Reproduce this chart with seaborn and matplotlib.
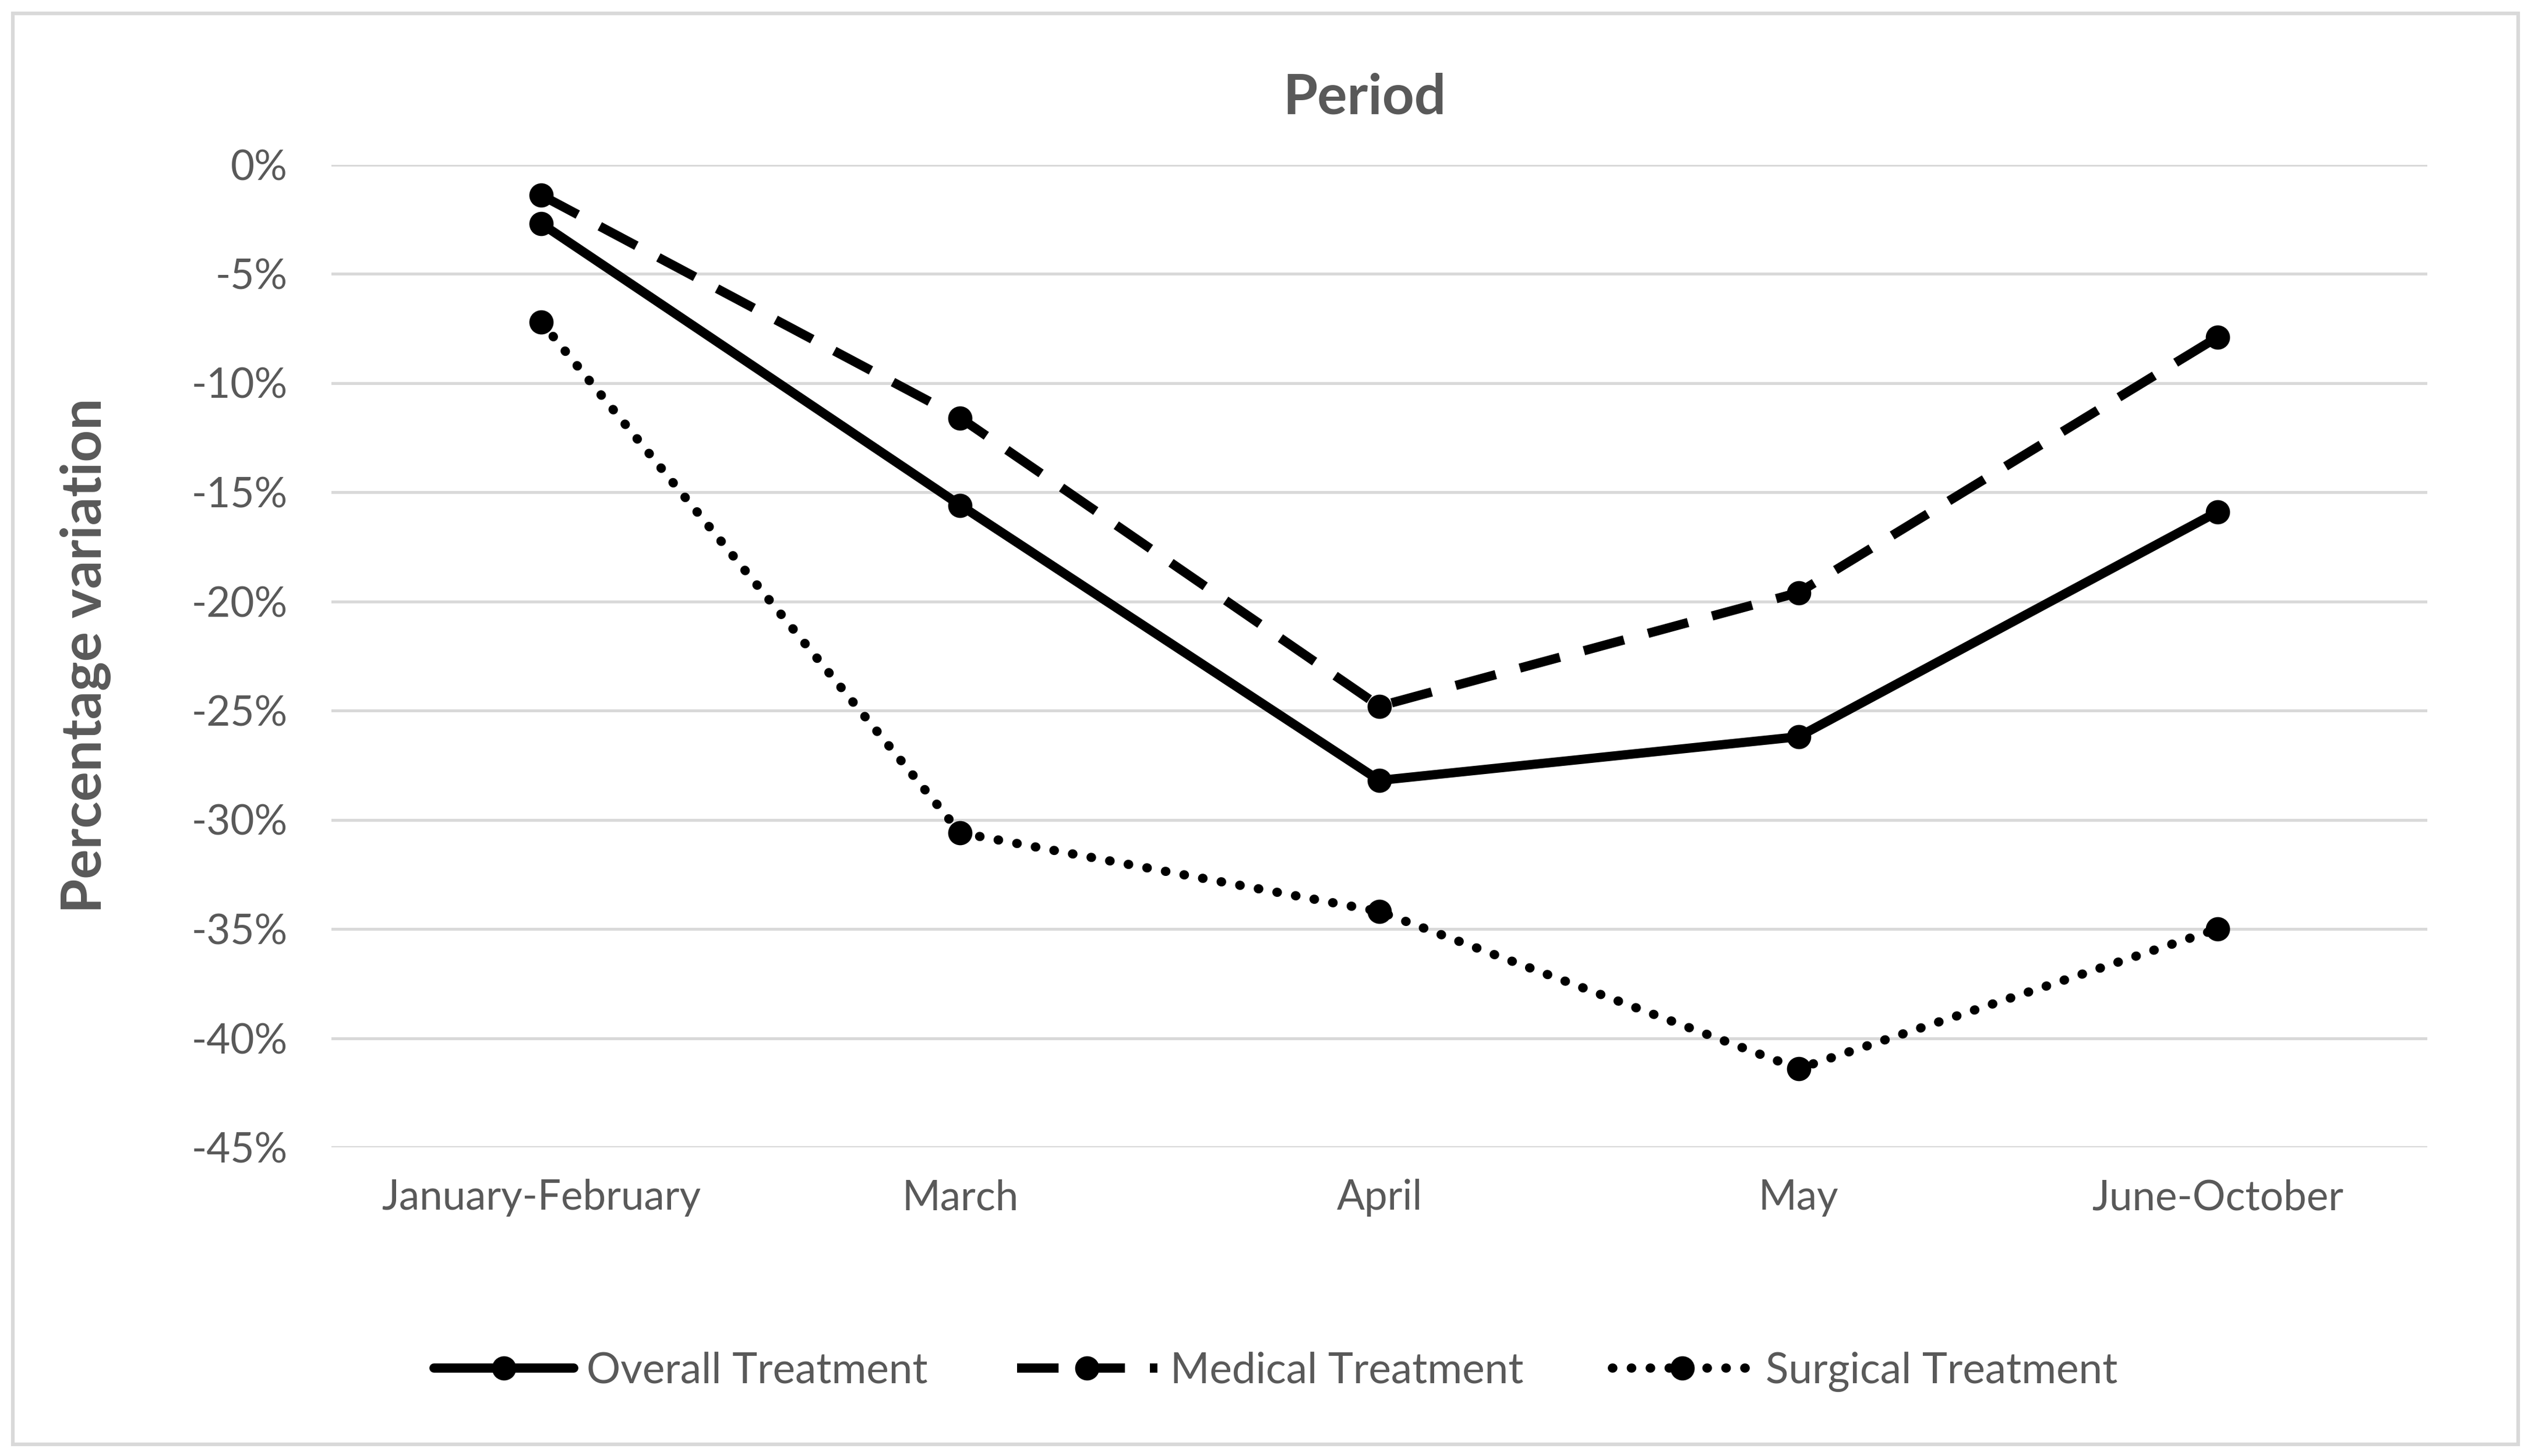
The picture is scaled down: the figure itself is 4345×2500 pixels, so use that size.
import pandas as pd
import seaborn as sns
import matplotlib.pyplot as plt
from matplotlib.patches import Rectangle
from matplotlib.ticker import FuncFormatter

# Values (percentage variation)
periods = ["January-February", "March", "April", "May", "June-October"]
overall = [-2.7, -15.6, -28.2, -26.2, -15.9]
medical = [-1.4, -11.6, -24.8, -19.6, -7.9]
surgical = [-7.2, -30.6, -34.2, -41.4, -35.0]
series_names = ["Overall Treatment", "Medical Treatment", "Surgical Treatment"]

df = pd.DataFrame({
    "period": periods * 3,
    "value": overall + medical + surgical,
    "series": [series_names[0]] * 5 + [series_names[1]] * 5 + [series_names[2]] * 5,
})
df["x"] = df["period"].map({p: i for i, p in enumerate(periods)})

sns.set_style("white")
plt.rcParams["font.family"] = ["Lato", "DejaVu Sans"]

fig = plt.figure(figsize=(4345 / 300, 2500 / 300), dpi=300)
ax = fig.add_axes([0.131, 0.212, 0.828, 0.675])

dash_styles = {
    series_names[0]: "",
    series_names[1]: (4.5, 2.7),
    series_names[2]: (0.05, 2.0),
}
sns.lineplot(data=df, x="x", y="value", hue="series", style="series",
             palette=["black"] * 3, dashes=dash_styles, markers=["o"] * 3,
             markersize=10, markeredgewidth=0, linewidth=3.8, ax=ax,
             hue_order=series_names, style_order=series_names)

dotted = ax.get_lines()[2]
dotted.set_dash_capstyle("round")

ax.set_xlim(-0.5, 4.5)
ax.set_ylim(-45, 0)
ax.set_yticks(range(-45, 1, 5))
ax.yaxis.set_major_formatter(FuncFormatter(lambda v, _: f"{int(v)}%"))
ax.set_xticks(range(len(periods)))
ax.set_xticklabels(periods)
ax.tick_params(axis="both", length=0, labelsize=17, labelcolor="#595959")
ax.tick_params(axis="x", pad=13)
ax.tick_params(axis="y", pad=18)
ax.grid(axis="y", color="#d9d9d9", linewidth=1.2)
ax.set_axisbelow(True)
for s in ax.spines.values():
    s.set_visible(False)

ax.set_xlabel("")
ax.set_ylabel("Percentage variation", fontsize=23, fontweight="bold",
              color="#595959", labelpad=33)
fig.text(0.539, 0.933, "Period", ha="center", va="center", fontsize=23,
         fontweight="bold", color="#595959")

handles, labels = ax.get_legend_handles_labels()
if ax.legend_:
    ax.legend_.remove()
leg = fig.legend(handles, labels, loc="center", bbox_to_anchor=(0.504, 0.058),
                 ncol=3, frameon=False, fontsize=17.5, handlelength=3.3,
                 columnspacing=2.1, handletextpad=0.3)
leg.get_lines()[2].set_dash_capstyle("round")
for t in leg.get_texts():
    t.set_color("#595959")

fig.patches.append(Rectangle((0.005, 0.008), 0.99, 0.983, transform=fig.transFigure,
                             fill=False, edgecolor="#d9d9d9", linewidth=1.5))

fig.savefig("out.png", dpi=300, facecolor="white")
